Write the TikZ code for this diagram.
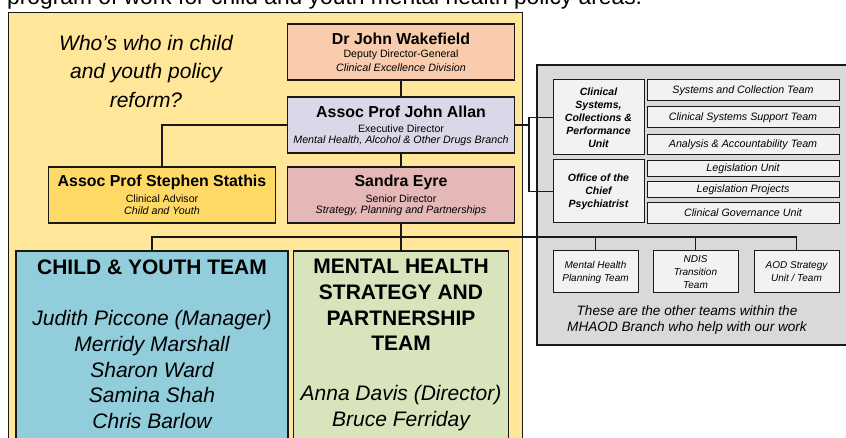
\documentclass[tikz,border=0pt]{standalone}
\usepackage{fontspec}
\setmainfont{Liberation Sans}
\usepackage{tikz}

\definecolor{branchyellow}{RGB}{255,230,153}
\definecolor{ddgpeach}{RGB}{248,204,173}
\definecolor{edlilac}{RGB}{219,215,232}
\definecolor{advgold}{RGB}{255,217,102}
\definecolor{sdrose}{RGB}{229,184,183}
\definecolor{teamblue}{RGB}{146,205,220}
\definecolor{teamgreen}{RGB}{216,228,188}
\definecolor{othergrey}{RGB}{217,217,217}
\definecolor{unitgrey}{RGB}{242,242,242}
\definecolor{edge}{RGB}{25,25,25}

\begin{document}
\begin{tikzpicture}[x=1pt,y=-1pt,
  pbox/.style={draw=edge, line width=1.2pt, minimum width=227pt, minimum height=56pt, inner sep=0pt},
  pname/.style={inner sep=0pt, font=\fontsize{15.9}{18}\selectfont\bfseries},
  prole/.style={inner sep=0pt, font=\fontsize{10.6}{12}\selectfont},
  punit/.style={inner sep=0pt, font=\fontsize{10.7}{12}\selectfont\itshape},
  teambox/.style={draw=edge, line width=1.2pt, minimum height=209pt, inner sep=0pt},
  teamhead/.style={inner sep=0pt, align=center, font=\fontsize{21}{25.6}\selectfont\bfseries},
  teamlist/.style={inner sep=0pt, align=center, font=\fontsize{21}{25.75}\selectfont\itshape},
  unitbox/.style={draw=edge, fill=unitgrey, line width=1pt, minimum width=91pt, inner sep=0pt, align=center, font=\fontsize{10.5}{13}\selectfont\bfseries\itshape},
  subbox/.style={draw=edge, fill=unitgrey, line width=1pt, minimum width=192pt, inner sep=0pt, font=\fontsize{10.7}{12}\selectfont\itshape},
  otherbox/.style={draw=edge, fill=unitgrey, line width=1pt, minimum width=85pt, minimum height=42pt, inner sep=0pt, align=center, font=\fontsize{10}{13}\selectfont\itshape},
  link/.style={draw=edge, line width=1.4pt},
  mainlink/.style={draw=edge, line width=2.2pt}]
\useasboundingbox (0,0) rectangle (846,438);
\clip (0,0) rectangle (846,438);

% text cut off by the page edge
\node[anchor=base west, inner sep=0pt, font=\fontsize{22.8}{26}\selectfont] (intro) at (7,4.5) {program of work for child and youth mental health policy areas.};

% branch backgrounds
\draw[draw=edge, line width=1pt, fill=branchyellow] (8,13) rectangle (522,460);
\draw[draw=edge, line width=1.2pt, fill=othergrey] (537,65) rectangle (860,345);

\node[inner sep=0pt, align=center, font=\fontsize{21}{28.5}\selectfont\itshape] (title) at (146,71) {Who’s who in child\\and youth policy\\reform?};

% executive line
\node[pbox, fill=ddgpeach] (wake) at (401,52) {};
\node[pname] (wakeN) at (401,39) {Dr John Wakefield};
\node[prole] (wakeR) at (401,55) {Deputy Director-General};
\node[punit] (wakeU) at (401,68) {Clinical Excellence Division};

\node[pbox, fill=edlilac] (allan) at (401,125) {};
\node[pname] (allanN) at (401,112) {Assoc Prof John Allan};
\node[prole] (allanR) at (401,129) {Executive Director};
\node[punit] (allanU) at (401,141) {Mental Health, Alcohol \& Other Drugs Branch};

\node[pbox, fill=advgold] (stathis) at (162,195) {};
\node[pname] (stathisN) at (162,182) {Assoc Prof Stephen Stathis};
\node[prole] (stathisR) at (162,199) {Clinical Advisor};
\node[punit] (stathisU) at (162,211) {Child and Youth};

\node[pbox, fill=sdrose] (eyre) at (401,195) {};
\node[pname] (eyreN) at (401,182) {Sandra Eyre};
\node[prole] (eyreR) at (401,199) {Senior Director};
\node[punit] (eyreU) at (401,211) {Strategy, Planning and Partnerships};

% teams
\node[teambox, fill=teamblue, minimum width=272pt] (cy) at (152,355.5) {};
\node[teamhead] (cyH) at (152,267) {CHILD \& YOUTH TEAM};
\node[teamlist] (cyL) at (152,369.5) {Judith Piccone (Manager)\\Merridy Marshall\\Sharon Ward\\Samina Shah\\Chris Barlow};

\node[teambox, fill=teamgreen, minimum width=215pt] (mh) at (401,355.5) {};
\node[teamhead] (mhH) at (401,305) {MENTAL HEALTH\\STRATEGY AND\\PARTNERSHIP\\TEAM};
\node[teamlist] (mhL) at (401,408) {Anna Davis (Director)\\Bruce Ferriday};

% other MHAOD teams
\node[unitbox, minimum height=75pt] (csu) at (598.5,117.5) {Clinical\\Systems,\\Collections \&\\Performance\\Unit};
\node[unitbox, minimum height=63pt] (ocp) at (598.5,191.5) {Office of the\\Chief\\Psychiatrist};

\node[subbox, minimum height=21pt] (sct) at (743,90.5) {Systems and Collection Team};
\node[subbox, minimum height=21pt] (cst) at (743,117.5) {Clinical Systems Support Team};
\node[subbox, minimum height=20pt] (aat) at (743,145) {Analysis \& Accountability Team};
\node[subbox, minimum height=16.5pt] (lgu) at (743,168.5) {Legislation Unit};
\node[subbox, minimum height=15.5pt] (lgp) at (743,189.5) {Legislation Projects};
\node[subbox, minimum height=20.5pt] (cgu) at (743,213) {Clinical Governance Unit};

\node[otherbox] (mhp) at (595.5,272) {Mental Health\\Planning Team};
\node[otherbox] (ndis) at (695.5,272) {NDIS\\Transition\\Team};
\node[otherbox] (aod) at (796.5,272) {AOD Strategy\\Unit / Team};

\node[inner sep=0pt, align=center, font=\fontsize{13.6}{16}\selectfont\itshape] (note) at (687,320) {These are the other teams within the\\MHAOD Branch who help with our work};

% connectors
\coordinate (brk) at (529,125);
\coordinate (bar) at (401,237);
\draw[link] (wake.south) -- (allan.north);
\draw[link] (allan.south) -- (eyre.north);
\draw[link] (allan.west) -| (stathis.north);
\draw[link] (allan.east) -- (brk);
\draw[link] (csu.west) -| (brk) |- (ocp.west);
\draw[mainlink] (eyre.south) -- (bar);
\draw[link] (cy.north) |- (bar) -| (aod.north);
\draw[link] (mh.north) -- (bar);
\draw[link] (mhp.north) -- (mhp.north |- bar);
\draw[link] (ndis.north) -- (ndis.north |- bar);
\end{tikzpicture}
\end{document}
